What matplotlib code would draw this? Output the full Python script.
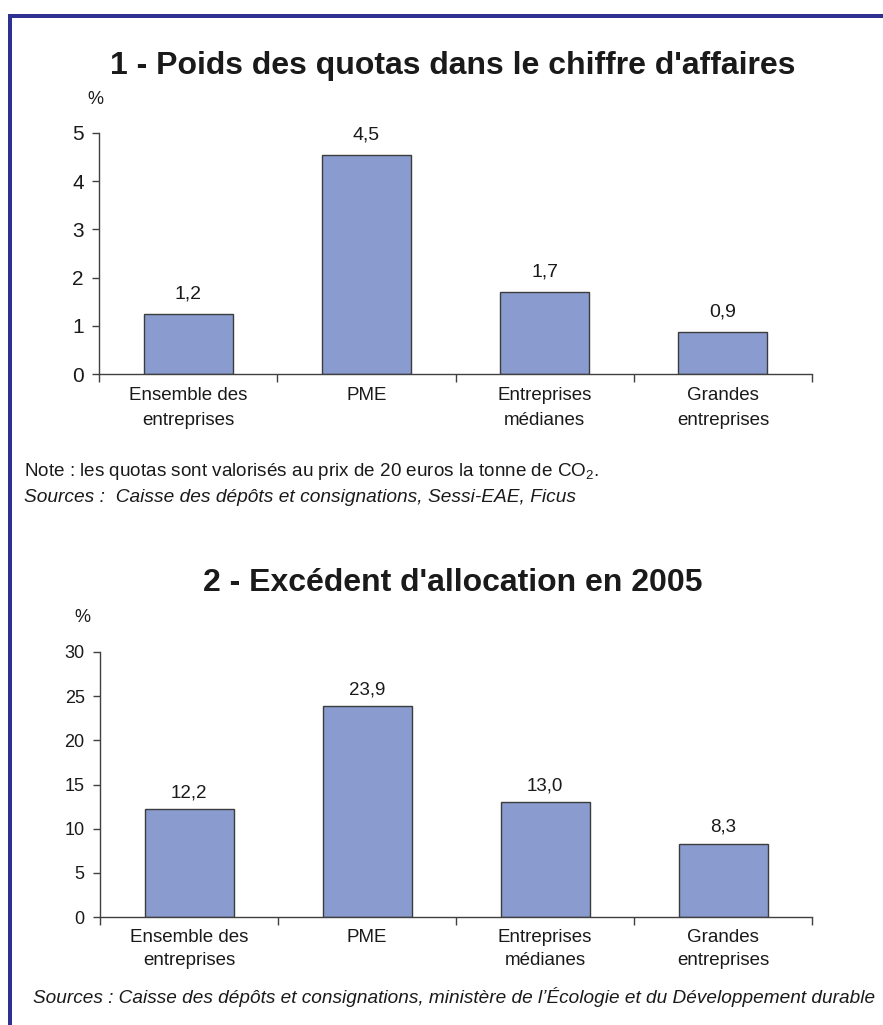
import matplotlib
matplotlib.use("Agg")
import matplotlib.pyplot as plt
from matplotlib.patches import Rectangle

plt.rcParams['font.family'] = ['Liberation Sans', 'DejaVu Sans']
plt.rcParams['mathtext.fontset'] = 'custom'
plt.rcParams['mathtext.rm'] = 'Liberation Sans'
plt.rcParams['mathtext.it'] = 'Liberation Sans:italic'

categories = ["Ensemble des\nentreprises", "PME", "Entreprises\nmédianes", "Grandes\nentreprises"]

title1 = "1 - Poids des quotas dans le chiffre d'affaires"
values1 = [1.25, 4.55, 1.70, 0.88]
labels1 = ["1,2", "4,5", "1,7", "0,9"]
yticks1 = [0, 1, 2, 3, 4, 5]

title2 = "2 - Excédent d'allocation en 2005"
values2 = [12.2, 23.9, 13.0, 8.3]
labels2 = ["12,2", "23,9", "13,0", "8,3"]
yticks2 = [0, 5, 10, 15, 20, 25, 30]

note1 = r"Note : les quotas sont valorisés au prix de 20 euros la tonne de CO$_\mathregular{2}$."
source1 = "Sources :  Caisse des dépôts et consignations, Sessi-EAE, Ficus"
source2 = "Sources : Caisse des dépôts et consignations, ministère de l’Écologie et du Développement durable"

W, H = 883, 1025
fig = plt.figure(figsize=(W / 100, H / 100), dpi=100)

BAR = '#8a9ccf'
EDGE = '#3c3c3c'
AX = '#404040'
TXT = '#1a1a1a'


def fx(px):
    return px / W


def fy(py):
    return 1 - py / H


def make(ax, values, labels, yticks, tick_fs, cat_fs, val_fs, off, lsp, cpad):
    x = list(range(len(values)))
    ax.bar(x, values, width=0.5, color=BAR, edgecolor=EDGE, linewidth=1.0, zorder=2)
    for xi, v, lab in zip(x, values, labels):
        ax.annotate(lab, (xi, v), xytext=(0, off), textcoords='offset points',
                    ha='center', va='baseline', fontsize=val_fs, color=TXT)
    ax.set_xlim(-0.5, len(values) - 0.5)
    ax.set_ylim(yticks[0], yticks[-1])
    ax.set_yticks(yticks)
    ax.set_yticklabels([str(t) for t in yticks], fontsize=tick_fs, color=TXT)
    ax.set_xticks(x)
    ax.set_xticklabels(categories, fontsize=cat_fs, color=TXT, linespacing=lsp)
    ax.set_xticks([i - 0.5 for i in range(len(values) + 1)], minor=True)
    ax.tick_params(axis='x', which='major', length=0, pad=cpad)
    ax.tick_params(axis='x', which='minor', length=6, width=1, color=AX, direction='out')
    ax.tick_params(axis='y', length=5, width=1, color=AX, direction='out', pad=6)
    for s in ['top', 'right']:
        ax.spines[s].set_visible(False)
    for s in ['left', 'bottom']:
        ax.spines[s].set_color(AX)
        ax.spines[s].set_linewidth(1.0)


ax1 = fig.add_axes([fx(99), fy(374), fx(812) - fx(99), fy(133) - fy(374)])
make(ax1, values1, labels1, yticks1, 15, 13.5, 14, 11, 1.6, 9.5)
ax2 = fig.add_axes([fx(100), fy(917), fx(812) - fx(100), fy(652) - fy(917)])
make(ax2, values2, labels2, yticks2, 13, 13.5, 13.5, 8.5, 1.4, 9)

fig.text(fx(453), fy(66), title1, ha='center', va='center', fontsize=23, fontweight='bold', color=TXT)
fig.text(fx(453), fy(583), title2, ha='center', va='center', fontsize=23, fontweight='bold', color=TXT)
fig.text(fx(95), fy(99), "%", ha='center', va='center', fontsize=13, color=TXT)
fig.text(fx(82), fy(618), "%", ha='center', va='center', fontsize=13, color=TXT)

fig.text(fx(24), fy(472), note1, ha='left', va='center', fontsize=13.6, color=TXT)
fig.text(fx(24), fy(497), source1, ha='left', va='center', fontsize=13.8, style='italic', color=TXT)
fig.text(fx(33), fy(997), source2, ha='left', va='center', fontsize=13.65, style='italic', color=TXT)

FRAME = '#2e3192'
fig.add_artist(Rectangle((fx(8), fy(18)), 1 - fx(8), 4 / H, transform=fig.transFigure,
                         facecolor=FRAME, edgecolor='none'))
fig.add_artist(Rectangle((fx(8), 0), 4 / W, fy(14), transform=fig.transFigure,
                         facecolor=FRAME, edgecolor='none'))

fig.savefig("out.png", dpi=100)
